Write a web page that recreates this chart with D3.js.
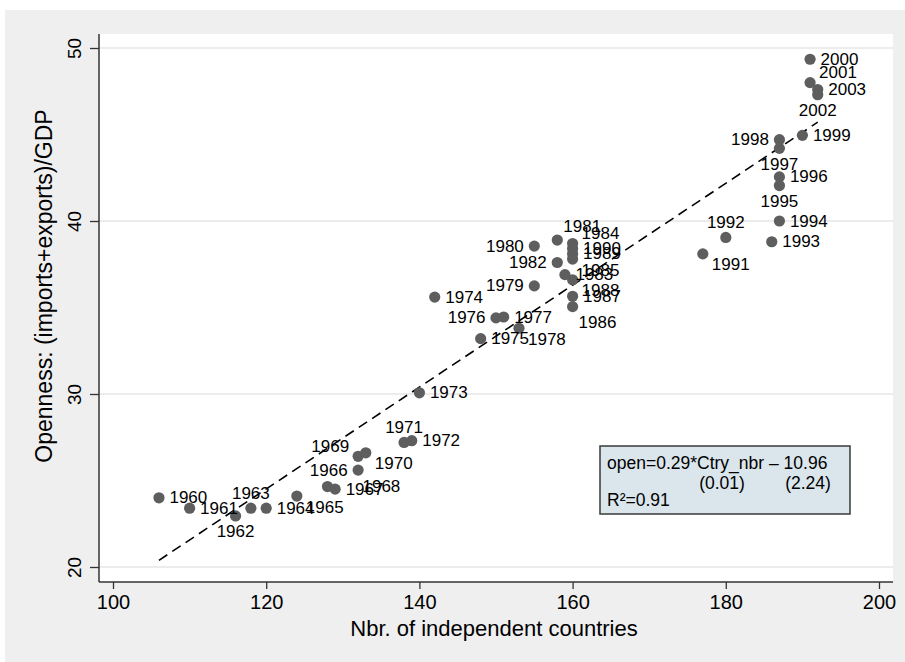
<!DOCTYPE html>
<html lang="en-US">
<head>
<meta charset="UTF-8">
<title>Openness vs countries</title>
<style>
    body {margin: 0; background: #fff;}
    svg text {font-family: "Liberation Sans", Arial, sans-serif; fill: #000;}
</style>
</head>
<body>
<div id="viz"></div>
<script src="https://d3js.org/d3.v7.min.js"></script>
<script>

    // year labels, nbr of countries, openness
    var years = [1960, 1961, 1962, 1963, 1964, 1965, 1966, 1967, 1968, 1969, 1970,
                 1971, 1972, 1973, 1974, 1975, 1976, 1977, 1978, 1979, 1980, 1981,
                 1982, 1983, 1984, 1985, 1986, 1987, 1988, 1989, 1990, 1991, 1992,
                 1993, 1994, 1995, 1996, 1997, 1998, 1999, 2000, 2001, 2002, 2003];
    var countries = [106, 110, 116, 118, 120, 124, 132, 129, 128, 132, 133,
                     138, 139, 140, 142, 148, 150, 151, 153, 155, 155, 158,
                     158, 159, 160, 160, 160, 160, 160, 160, 160, 177, 180,
                     186, 187, 187, 187, 187, 187, 190, 191, 191, 192, 192];
    var openness = [24.0, 23.4, 22.95, 23.4, 23.4, 24.1, 25.6, 24.5, 24.65, 26.4, 26.6,
                    27.2, 27.3, 30.07, 35.6, 33.2, 34.4, 34.45, 33.8, 36.25, 38.55, 38.9,
                    37.6, 36.9, 38.7, 37.8, 35.05, 35.65, 36.6, 38.1, 38.4, 38.1, 39.05,
                    38.8, 40.0, 42.05, 42.55, 44.2, 44.7, 44.95, 49.35, 48.0, 47.3, 47.6];
    // marker label clock positions (mlabvposition)
    var labelPos = [3, 3, 6, 12, 3, 4, 9, 3, 3, 10, 4,
                    12, 3, 3, 3, 3, 9, 3, 4, 9, 9, 1,
                    9, 3, 2, 4, 5, 3, 4, 3, 3, 4, 12,
                    3, 3, 6, 3, 6, 9, 3, 3, 2, 6, 3];

    var xTicks = [100, 120, 140, 160, 180, 200];
    var yTicks = [20, 30, 40, 50];
    var boxLines = ["open=0.29*Ctry_nbr \u2013 10.96", "(0.01)", "(2.24)", "R\u00b2=0.91"];

    var width = 905, height = 662;
    var plot = {left: 99, right: 893, top: 34, bottom: 582};

    var svg = d3.select("#viz").append("svg")
        .attr("width", width)
        .attr("height", height);

    // outer graph region
    svg.append("rect")
        .attr("x", 5).attr("y", 10)
        .attr("width", width - 5).attr("height", height - 10)
        .attr("fill", "#efefef");

    svg.append("rect")
        .attr("x", plot.left).attr("y", plot.top)
        .attr("width", plot.right - plot.left).attr("height", plot.bottom - plot.top)
        .attr("fill", "#ffffff");

    var x = d3.scaleLinear().domain([100, 200]).range([113, 879]);
    var y = d3.scaleLinear().domain([20, 50]).range([567, 48]);

    // grid
    svg.append("g").selectAll("line")
        .data(yTicks)
        .enter().append("line")
        .attr("x1", plot.left).attr("x2", plot.right)
        .attr("y1", function(d) { return y(d); })
        .attr("y2", function(d) { return y(d); })
        .attr("stroke", "#e6e6e6")
        .attr("stroke-width", 1.5);

    // axes
    var xAxis = svg.append("g")
        .attr("transform", "translate(0," + plot.bottom + ")")
        .call(d3.axisBottom(x).tickValues(xTicks).tickSize(7).tickPadding(6).tickSizeOuter(0));
    var yAxis = svg.append("g")
        .attr("transform", "translate(" + plot.left + ",0)")
        .call(d3.axisLeft(y).tickValues(yTicks).tickSize(9).tickPadding(4).tickSizeOuter(0));

    xAxis.select(".domain").attr("d", "M" + plot.left + ",0H" + plot.right);
    yAxis.select(".domain").attr("d", "M0," + plot.top + "V" + plot.bottom);
    svg.selectAll(".domain").attr("stroke", "#333").attr("stroke-width", 1.5);
    svg.selectAll(".tick line").attr("stroke", "#333").attr("stroke-width", 1.3);

    xAxis.selectAll(".tick text")
        .attr("font-size", 20)
        .attr("font-family", "Liberation Sans, Arial, sans-serif")
        .attr("fill", "#000");
    yAxis.selectAll(".tick text")
        .attr("font-size", 19)
        .attr("font-family", "Liberation Sans, Arial, sans-serif")
        .attr("fill", "#000")
        .attr("text-anchor", "middle")
        .attr("dy", 0)
        .attr("transform", "translate(-25,0) rotate(-90)")
        .attr("x", 0).attr("y", 0)
        .attr("dominant-baseline", "central");

    svg.append("text")
        .attr("x", (x(100) + x(200)) / 2 - 2)
        .attr("y", 636)
        .attr("text-anchor", "middle")
        .attr("font-size", 22)
        .text("Nbr. of independent countries");

    svg.append("text")
        .attr("transform", "translate(52," + ((plot.top + plot.bottom) / 2 - 22) + ") rotate(-90)")
        .attr("text-anchor", "middle")
        .attr("font-size", 23)
        .text("Openness: (imports+exports)/GDP");

    // linear fit over the data range
    var mx = d3.mean(countries), my = d3.mean(openness);
    var sxy = d3.sum(countries, function(c, i) { return (c - mx) * (openness[i] - my); });
    var sxx = d3.sum(countries, function(c) { return (c - mx) * (c - mx); });
    var slope = sxy / sxx, icpt = my - slope * mx;
    var xr = d3.extent(countries);

    svg.append("line")
        .attr("x1", x(xr[0])).attr("y1", y(icpt + slope * xr[0]))
        .attr("x2", x(xr[1])).attr("y2", y(icpt + slope * xr[1]))
        .attr("stroke", "#000")
        .attr("stroke-width", 1.6)
        .attr("stroke-dasharray", "10,6");

    // markers
    var pts = years.map(function(yr, i) {
        return {year: yr, c: countries[i], o: openness[i], pos: labelPos[i]};
    });

    svg.append("g").selectAll("circle")
        .data(pts)
        .enter().append("circle")
        .attr("cx", function(d) { return x(d.c); })
        .attr("cy", function(d) { return y(d.o); })
        .attr("r", 5.6)
        .attr("fill", "#5e5e5e");

    // clock position -> offset & anchor
    var clock = {
        1: [6, -14, "start"], 2: [9, -10, "start"], 3: [10.5, 0, "start"],
        4: [9, 11, "start"], 5: [6, 16, "start"], 6: [0, 16, "middle"],
        9: [-10.5, 0, "end"], 10: [-9, -10, "end"], 12: [0, -15, "middle"]
    };
    var gapFix = {1968: 35};

    svg.append("g").selectAll("text")
        .data(pts)
        .enter().append("text")
        .attr("x", function(d) { return x(d.c) + (gapFix[d.year] || clock[d.pos][0]); })
        .attr("y", function(d) { return y(d.o) + clock[d.pos][1]; })
        .attr("text-anchor", function(d) { return clock[d.pos][2]; })
        .attr("dominant-baseline", "central")
        .attr("font-size", 17)
        .text(function(d) { return d.year; });

    // equation box
    var box = svg.append("g").attr("transform", "translate(600,446)");
    box.append("rect")
        .attr("width", 250).attr("height", 68)
        .attr("fill", "#dae5ec")
        .attr("stroke", "#3a3a3a")
        .attr("stroke-width", 1.5);
    box.append("text").attr("x", 7).attr("y", 17).attr("dominant-baseline", "central")
        .attr("font-size", 17.5).text(boxLines[0]);
    box.append("text").attr("x", 122).attr("y", 37).attr("dominant-baseline", "central")
        .attr("text-anchor", "middle").attr("font-size", 17.5).text(boxLines[1]);
    box.append("text").attr("x", 208).attr("y", 37).attr("dominant-baseline", "central")
        .attr("text-anchor", "middle").attr("font-size", 17.5).text(boxLines[2]);
    box.append("text").attr("x", 7).attr("y", 54).attr("dominant-baseline", "central")
        .attr("font-size", 17.5).text(boxLines[3]);

    </script>
</body>
</html>
